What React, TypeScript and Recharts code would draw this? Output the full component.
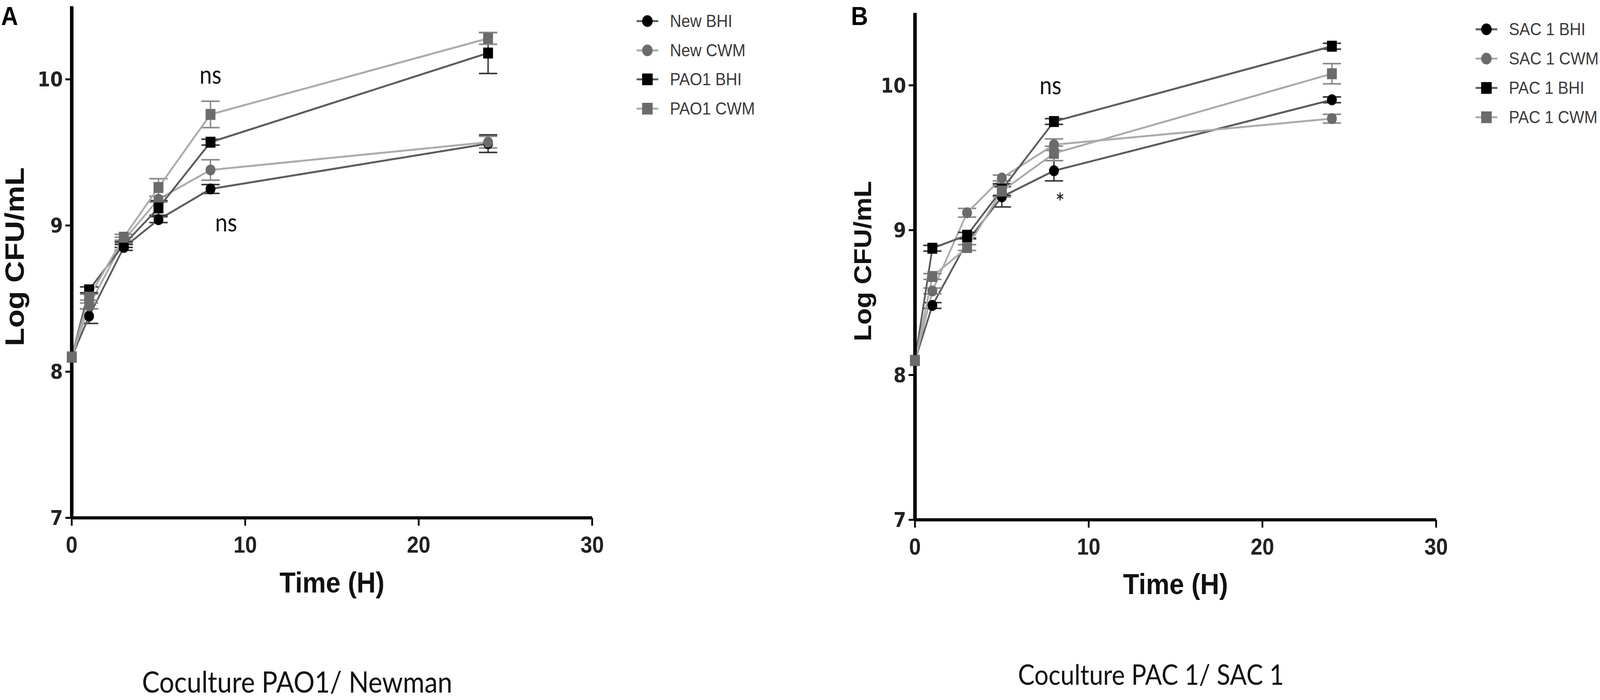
import React from "react";
import { LineChart, Line, XAxis, YAxis, ErrorBar, ReferenceDot, Legend, Label } from "recharts";

// sampling times (h), shared by every series
const TIMES = [0, 1, 3, 5, 8, 24];
const X_TICKS = [0, 10, 20, 30];
const Y_TICKS = [7, 8, 9, 10];

// panel A: coculture PAO1 / Newman (log CFU/mL, mean and SD)
const NEW_BHI = [8.1, 8.38, 8.85, 9.04, 9.25, 9.56];
const NEW_BHI_SD = [0, 0.05, 0.02, 0.02, 0.03, 0.06];
const NEW_CWM = [8.1, 8.45, 8.9, 9.18, 9.38, 9.57];
const NEW_CWM_SD = [0, 0.02, 0.02, 0.02, 0.07, 0.04];
const PAO1_BHI = [8.1, 8.56, 8.87, 9.12, 9.57, 10.18];
const PAO1_BHI_SD = [0, 0.02, 0.02, 0.05, 0.02, 0.14];
const PAO1_CWM = [8.1, 8.51, 8.92, 9.26, 9.76, 10.28];
const PAO1_CWM_SD = [0, 0.02, 0.02, 0.06, 0.09, 0.04];

// panel B: coculture PAC 1 / SAC 1
const SAC1_BHI = [8.1, 8.48, 8.92, 9.23, 9.41, 9.9];
const SAC1_BHI_SD = [0, 0.02, 0.02, 0.07, 0.07, 0.02];
const SAC1_CWM = [8.1, 8.58, 9.12, 9.36, 9.59, 9.77];
const SAC1_CWM_SD = [0, 0.02, 0.03, 0.02, 0.04, 0.03];
const PAC1_BHI = [8.1, 8.875, 8.965, 9.28, 9.75, 10.27];
const PAC1_BHI_SD = [0, 0.02, 0.02, 0.04, 0.02, 0.02];
const PAC1_CWM = [8.1, 8.68, 8.88, 9.27, 9.53, 10.08];
const PAC1_CWM_SD = [0, 0.02, 0.02, 0.04, 0.05, 0.07];

// significance marks, in data coordinates
const NOTES_A = [
  { t: 8, v: 10.03, text: "ns" },
  { t: 8.9, v: 9.02, text: "ns" },
];
const NOTES_B = [
  { t: 7.8, v: 10.0, text: "ns" },
  { t: 8.35, v: 9.19, text: "*" },
];

const BHI_DOT = "#000";
const CWM_DOT = "#6b6b6b";
const BHI_LINE = "#5c5c5c";
const CWM_LINE = "#ababab";

// layout is done in reference pixels, then fitted to the real viewport
const PAGE_W = 4550;
const PAGE_H = 1791;

type Series = {
  key: string;
  name: string;
  values: number[];
  sd: number[];
  shape: "circle" | "square";
  dot: string;
  line: string;
};

const SERIES_A: Series[] = [
  { key: "newBhi", name: "New BHI", values: NEW_BHI, sd: NEW_BHI_SD, shape: "circle", dot: BHI_DOT, line: BHI_LINE },
  { key: "newCwm", name: "New CWM", values: NEW_CWM, sd: NEW_CWM_SD, shape: "circle", dot: CWM_DOT, line: CWM_LINE },
  { key: "pao1Bhi", name: "PAO1 BHI", values: PAO1_BHI, sd: PAO1_BHI_SD, shape: "square", dot: BHI_DOT, line: BHI_LINE },
  { key: "pao1Cwm", name: "PAO1 CWM", values: PAO1_CWM, sd: PAO1_CWM_SD, shape: "square", dot: CWM_DOT, line: CWM_LINE },
];

const SERIES_B: Series[] = [
  { key: "sac1Bhi", name: "SAC 1 BHI", values: SAC1_BHI, sd: SAC1_BHI_SD, shape: "circle", dot: BHI_DOT, line: BHI_LINE },
  { key: "sac1Cwm", name: "SAC 1 CWM", values: SAC1_CWM, sd: SAC1_CWM_SD, shape: "circle", dot: CWM_DOT, line: CWM_LINE },
  { key: "pac1Bhi", name: "PAC 1 BHI", values: PAC1_BHI, sd: PAC1_BHI_SD, shape: "square", dot: BHI_DOT, line: BHI_LINE },
  { key: "pac1Cwm", name: "PAC 1 CWM", values: PAC1_CWM, sd: PAC1_CWM_SD, shape: "square", dot: CWM_DOT, line: CWM_LINE },
];

function toRows(series: Series[]) {
  return TIMES.map((t, i) => {
    const row: Record<string, number> = { t };
    series.forEach((s) => {
      row[s.key] = s.values[i];
      row[s.key + "Sd"] = s.sd[i];
    });
    return row;
  });
}

function Marker({ cx, cy, shape, fill, size }: { cx?: number; cy?: number; shape: string; fill: string; size: number }) {
  if (cx == null || cy == null) return null;
  if (shape === "circle") return <circle cx={cx} cy={cy} r={size / 2} fill={fill} />;
  return <rect x={cx - size / 2} y={cy - size / 2} width={size} height={size} fill={fill} />;
}

function LegendBox({ series, rowHeight }: { series: Series[]; rowHeight: number }) {
  return (
    <div style={{ fontFamily: "'Liberation Sans', Arial, sans-serif", fontSize: 45, color: "#3a3a3a" }}>
      {series.map((s) => (
        <div key={s.key} style={{ display: "flex", alignItems: "center", height: rowHeight }}>
          <svg width={95} height={40} style={{ flex: "none" }}>
            <line x1={0} x2={62} y1={20} y2={20} stroke={s.line} strokeWidth={5} />
            <Marker cx={31} cy={20} shape={s.shape} fill={s.dot} size={30} />
          </svg>
          <span style={{ whiteSpace: "nowrap" }}>{s.name}</span>
        </div>
      ))}
    </div>
  );
}

const yTick = { fontFamily: "'DejaVu Sans', sans-serif", fontWeight: 700, fontSize: 52, fill: "#222" };
const xTick = { fontFamily: "'Liberation Sans', Arial, sans-serif", fontWeight: 700, fontSize: 60, fill: "#222" };
const noteStyle = { fontFamily: "Lato, sans-serif", fontSize: 63, fill: "#111" };

function Panel({
  series,
  notes,
  left,
  width,
  plotLeft,
  plotRight,
  plotTop,
  plotBottom,
  legendLeft,
  legendTop,
  legendRow,
  titleOffset,
}: {
  series: Series[];
  notes: { t: number; v: number; text: string }[];
  left: number;
  width: number;
  plotLeft: number;
  plotRight: number;
  plotTop: number;
  plotBottom: number;
  legendLeft: number;
  legendTop: number;
  legendRow: number;
  titleOffset: number;
}) {
  const height = PAGE_H;
  const xAxisHeight = 200;
  return (
    <div style={{ position: "absolute", left, top: 0 }}>
      <LineChart
        width={width}
        height={height}
        data={toRows(series)}
        margin={{ top: plotTop, left: 0, right: width - plotRight, bottom: height - plotBottom - xAxisHeight }}
      >
        <XAxis
          dataKey="t"
          type="number"
          domain={[0, 30]}
          ticks={X_TICKS}
          height={xAxisHeight}
          axisLine={{ stroke: "#000", strokeWidth: 8 }}
          tickLine={{ stroke: "#000", strokeWidth: 5 }}
          tickSize={20}
          tickMargin={26}
          tick={xTick}
        >
          <Label
            value="Time (H)"
            position="insideBottom"
            offset={titleOffset}
            style={{ fontFamily: "'Liberation Sans', Arial, sans-serif", fontWeight: 700, fontSize: 75, fill: "#111" }}
          />
        </XAxis>
        <YAxis
          type="number"
          domain={[7, 10.5]}
          ticks={Y_TICKS}
          width={plotLeft}
          axisLine={{ stroke: "#000", strokeWidth: 10 }}
          tickLine={{ stroke: "#000", strokeWidth: 5 }}
          tickSize={18}
          tickMargin={7}
          tick={yTick}
        />
        <Legend
          layout="horizontal"
          verticalAlign="middle"
          align="center"
          wrapperStyle={{ left: legendLeft, top: legendTop, width: 360, height: legendRow * 4 }}
          content={() => <LegendBox series={series} rowHeight={legendRow} />}
        />
        {series.map((s) => (
          <Line
            key={s.key}
            dataKey={s.key}
            name={s.name}
            type="linear"
            stroke={s.line}
            strokeWidth={5}
            isAnimationActive={false}
            activeDot={false}
            dot={(p: any) => (
              <Marker key={`${s.key}-${p.index}`} cx={p.cx} cy={p.cy} shape={s.shape} fill={s.dot} size={28} />
            )}
          >
            <ErrorBar
              dataKey={s.key + "Sd"}
              direction="y"
              width={26}
              strokeWidth={4}
              stroke={s.dot === BHI_DOT ? "#3a3a3a" : "#8a8a8a"}
              isAnimationActive={false}
            />
          </Line>
        ))}
        {notes.map((n, i) => (
          <ReferenceDot
            key={`note-${i}`}
            x={n.t}
            y={n.v}
            r={0}
            fill="none"
            stroke="none"
            label={{ value: n.text, position: "center", ...noteStyle }}
          />
        ))}
      </LineChart>
    </div>
  );
}

export default function App() {
  const root = typeof document !== "undefined" ? document.documentElement : null;
  const vw = (root && root.clientWidth) || PAGE_W;
  const vh = (root && root.clientHeight) || PAGE_H;
  const sx = vw / PAGE_W;
  const sy = vh / PAGE_H;
  return (
    <div
      style={{
        position: "absolute",
        left: 0,
        top: 0,
        width: vw,
        height: vh,
        overflow: "hidden",
        background: "#fff",
      }}
    >
      <div
        style={{
          position: "absolute",
          left: 0,
          top: 0,
          width: PAGE_W,
          height: PAGE_H,
          transform: `scale(${sx}, ${sy})`,
          transformOrigin: "0 0",
        }}
      >
        <svg width={PAGE_W} height={PAGE_H} style={{ position: "absolute", left: 0, top: 0 }}>
          <g fontFamily="'Liberation Sans', Arial, sans-serif" fontWeight={700} fill="#000">
            <text x={3} y={64} fontSize={67}>A</text>
            <text x={2420} y={64} fontSize={67}>B</text>
            <text transform="translate(68,657) rotate(-90)" textAnchor="middle" fontSize={77} fill="#111">
              Log CFU/mL
            </text>
            <text transform="translate(2477,668) rotate(-90)" textAnchor="middle" fontSize={69} fill="#111">
              Log CFU/mL
            </text>
          </g>
          <g fontFamily="Lato, sans-serif" fill="#111">
            <text x={845} y={1772} textAnchor="middle" fontSize={75}>Coculture PAO1/ Newman</text>
            <text x={3273} y={1752} textAnchor="middle" fontSize={71}>Coculture PAC 1/ SAC 1</text>
          </g>
        </svg>
        <Panel
          series={SERIES_A}
          notes={NOTES_A}
          left={0}
          width={2300}
          plotLeft={204}
          plotRight={1684}
          plotTop={16}
          plotBottom={1325}
          legendLeft={1810}
          legendTop={17}
          legendRow={74.5}
          titleOffset={9}
        />
        <Panel
          series={SERIES_B}
          notes={NOTES_B}
          left={2400}
          width={2150}
          plotLeft={202}
          plotRight={1684}
          plotTop={33}
          plotBottom={1330}
          legendLeft={1796}
          legendTop={37}
          legendRow={75}
          titleOffset={10}
        />
      </div>
    </div>
  );
}
